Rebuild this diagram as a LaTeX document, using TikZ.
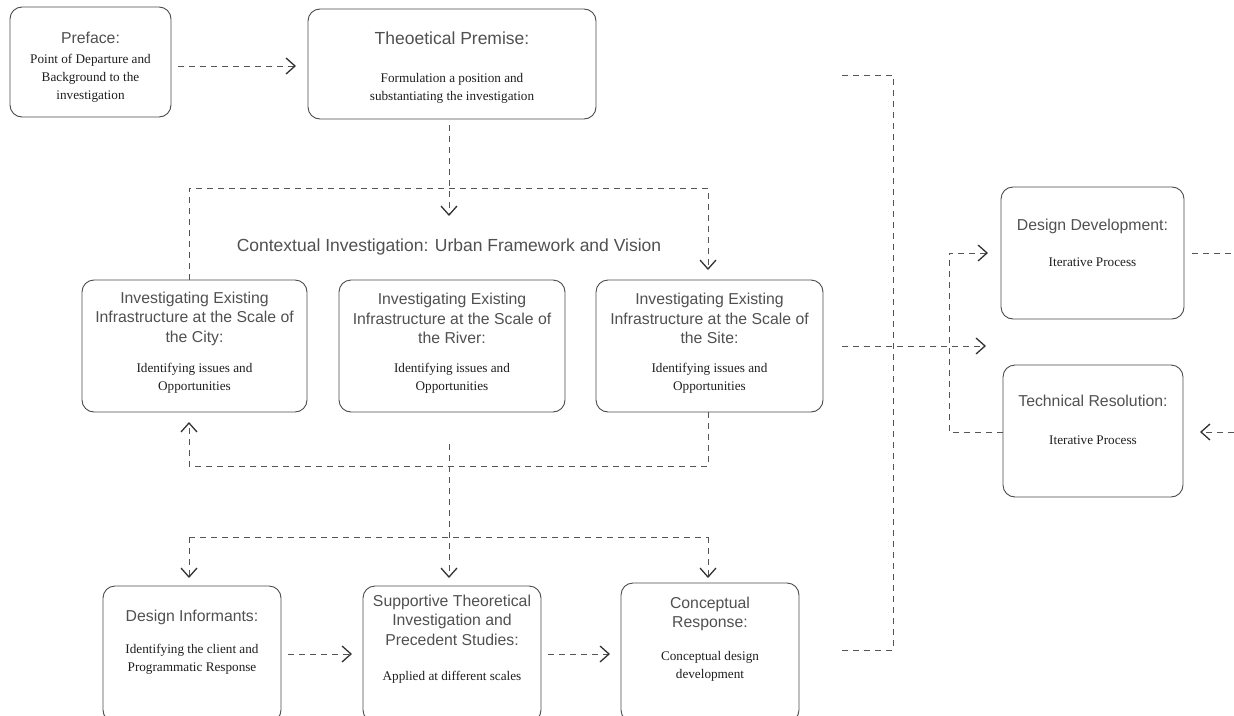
\documentclass[tikz,border=0pt]{standalone}
\usepackage{fontspec}
\setmainfont{Liberation Serif}
\newfontfamily\hsans{Liberation Sans}
\usetikzlibrary{arrows.meta}
\definecolor{boxc}{HTML}{4A4A4A}
\definecolor{linec}{HTML}{555555}
\definecolor{ttlc}{HTML}{505050}
\definecolor{bdyc}{HTML}{1E1E1E}
\definecolor{tipc}{HTML}{333333}
\begin{document}
\begin{tikzpicture}[x=1pt,y=-1pt,
  box/.style={draw=boxc,line width=0.9pt,rounded corners=12pt,inner sep=0pt,outer sep=0pt},
  ttl/.style={font=\hsans\fontsize{15.8}{19.5}\selectfont,text=ttlc,align=center,inner sep=0pt},
  bigttl/.style={font=\hsans\fontsize{17.5}{20}\selectfont,text=ttlc,align=center,inner sep=0pt},
  bdy/.style={font=\fontsize{13.2}{18}\selectfont,text=bdyc,align=center,inner sep=0pt},
  conn/.style={draw=linec,line width=0.8pt,dash pattern=on 6pt off 5pt},
  arr/.style={conn,-{Straight Barb[length=9pt,width=16pt,line width=1.3pt,color=tipc]}}]
\useasboundingbox (0,0) rectangle (1234,715);
\begin{scope}
\clip (0,0) rectangle (1234,715);
% boxes
\node[box,minimum width=161pt,minimum height=110pt] (pref) at (90.5,62) {};
\node[box,minimum width=288pt,minimum height=110pt] (prem) at (452,64) {};
\node[box,minimum width=225pt,minimum height=132pt] (city) at (194.5,346) {};
\node[box,minimum width=226pt,minimum height=132pt] (river) at (452,346) {};
\node[box,minimum width=227pt,minimum height=132pt] (site) at (709.5,346) {};
\node[box,minimum width=183pt,minimum height=132pt] (dev) at (1092.5,253) {};
\node[box,minimum width=180pt,minimum height=132pt] (tech) at (1093,431) {};
\node[box,minimum width=178pt,minimum height=136pt] (inf) at (192,654) {};
\node[box,minimum width=178pt,minimum height=136pt] (sup) at (452,654) {};
\node[box,minimum width=178pt,minimum height=139pt] (conc) at (710,652.5) {};
\end{scope}
% texts
\node[ttl] (preft) at (90.5,38) {Preface:};
\node[bdy] (prefb) at (90.5,78) {Point of Departure and\\Background to the\\investigation};
\node[bigttl] (premt) at (452,38) {Theoetical Premise:};
\node[bdy] (premb) at (452,88) {Formulation a position and\\substantiating the investigation};
\node[bigttl] (ctx) at (449,247) {Contextual Investigation: Urban Framework and Vision};
\node[ttl] (cityt) at (194.5,318.5) {Investigating Existing\\Infrastructure at the Scale of\\the City:};
\node[bdy] (cityb) at (194.5,378) {Identifying issues and\\Opportunities};
\node[ttl] (rivert) at (452,318.5) {Investigating Existing\\Infrastructure at the Scale of\\the River:};
\node[bdy] (riverb) at (452,378) {Identifying issues and\\Opportunities};
\node[ttl] (sitet) at (709.5,318.5) {Investigating Existing\\Infrastructure at the Scale of\\the Site:};
\node[bdy] (siteb) at (709.5,378) {Identifying issues and\\Opportunities};
\node[ttl] (devt) at (1092.5,226) {Design Development:};
\node[bdy] (devb) at (1092.5,262) {Iterative Process};
\node[ttl] (techt) at (1093,401) {Technical Resolution:};
\node[bdy] (techb) at (1093,440) {Iterative Process};
\node[ttl] (inft) at (192,617) {Design Informants:};
\node[bdy] (infb) at (192,659) {Identifying the client and\\Programmatic Response};
\node[ttl] (supt) at (452,620) {Supportive Theoretical\\Investigation and\\Precedent Studies:};
\node[bdy] (supb) at (452,677) {Applied at different scales};
\node[ttl] (conct) at (710,614) {Conceptual\\Response:};
\node[bdy] (concb) at (710,666) {Conceptual design\\development};
% coordinates
\coordinate (a1) at (449,216);
\coordinate (hl) at (189,188);
\coordinate (hr) at (708,188);
\coordinate (sitein) at (708,270);
\coordinate (u1) at (708,466);
\coordinate (u2) at (189,466);
\coordinate (cityin) at (189,422);
\coordinate (s1) at (449,444);
\coordinate (s2) at (449,578);
\coordinate (bl) at (189,537);
\coordinate (br) at (708,537);
\coordinate (bl2) at (189,578);
\coordinate (br2) at (708,578);
\coordinate (k1) at (842,650);
\coordinate (k2) at (893,650);
\coordinate (k3) at (893,75);
\coordinate (k4) at (842,75);
\coordinate (m1) at (842,346);
\coordinate (m2) at (986,346);
\coordinate (v1) at (949,432);
\coordinate (v2) at (949,253);
\coordinate (v3) at (988,253);
\coordinate (d1) at (1192,253);
\coordinate (d2) at (1234,253);
\coordinate (t1) at (1234,432);
\coordinate (t2) at (1200,432);
\coordinate (hy) at (0,654);
% connectors
\draw[arr] ([xshift=7pt,yshift=-4pt]pref.east) -- ([xshift=-12pt,yshift=-2pt]prem.west);
\path (prem.south -| a1) ++(0,6) coordinate (p1);
\draw[arr] (p1) -- (a1);
\draw[arr] (city.north -| hl) -- (hl) -- (hr) -- (sitein);
\draw[arr] (site.south -| u1) -- (u1) -- (u2) -- (cityin);
\draw[arr] (s1) -- (s2);
\draw[arr] (bl) -- (bl2);
\draw[arr] (br) -- (br2);
\draw[conn] (bl) -- (br);
\path (inf.east |- hy) ++(7,0) coordinate (i1);
\path (sup.west |- hy) ++(-11,0) coordinate (i2);
\draw[arr] (i1) -- (i2);
\path (sup.east |- hy) ++(7,0) coordinate (j1);
\path (conc.west |- hy) ++(-11,0) coordinate (j2);
\draw[arr] (j1) -- (j2);
\draw[conn] (k1) -- (k2) -- (k3) -- (k4);
\draw[arr] (m1) -- (m2);
\draw[arr] (tech.west |- v1) -- (v1) -- (v2) -- (v3);
\draw[conn] (d1) -- (d2);
\draw[arr] (t1) -- (t2);
\end{tikzpicture}
\end{document}
